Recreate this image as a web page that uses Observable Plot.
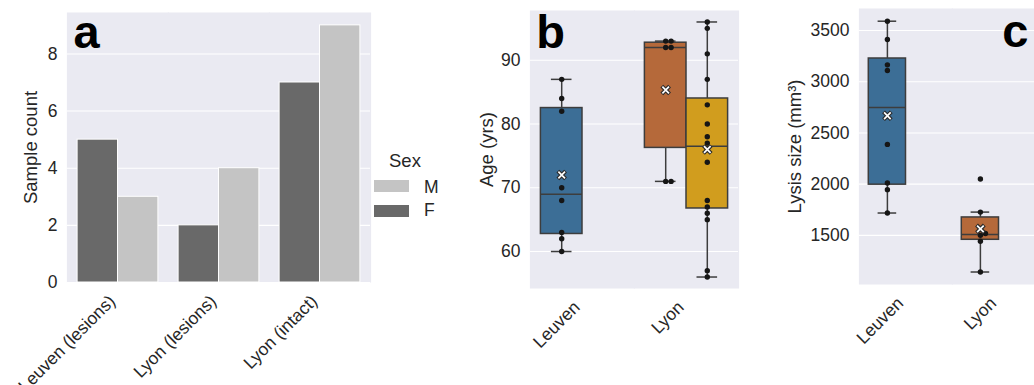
<!DOCTYPE html>
<html>
<head>
<meta charset="utf-8">
<script src="https://cdn.jsdelivr.net/npm/d3@7"></script>
<script src="https://cdn.jsdelivr.net/npm/@observablehq/plot@0.6"></script>
<style>
  html, body { margin: 0; padding: 0; background: #fff; overflow: hidden; }
  #root { position: relative; width: 1034px; height: 385px; overflow: hidden;
          font-family: "Liberation Sans", Arial, sans-serif; color: #262626; }
  .panel { position: absolute; top: 0; }
  .panel svg { overflow: visible; max-width: none !important; }
  #legend { position: absolute; left: 360px; top: 140px; }
</style>
</head>
<body>
<div id="root">
  <div class="panel" id="pa" style="left:0px; width:380px"></div>
  <div class="panel" id="pb" style="left:440px; width:310px"></div>
  <div class="panel" id="pc" style="left:760px; width:290px"></div>
  <svg id="legend" width="90" height="90"></svg>
</div>
<script>
// ---------------- data ----------------
const barCategories = ["Leuven (lesions)", "Lyon (lesions)", "Lyon (intact)"];
const sexLevels = ["F", "M"];
const countF = [5, 2, 7];
const countM = [3, 4, 9];
const legendOrder = ["M", "F"];
const countTicks = [0, 2, 4, 6, 8];

const sites = ["Leuven", "Lyon"];
const hues = ["lesions", "intact"];
const ageLeuvenLesions = [87, 84, 82, 70, 68, 63, 62, 60];
const ageLyonLesions = [93, 93, 92, 92, 71, 71];
const ageLyonIntact = [96, 95, 91, 87, 83, 80, 78, 77, 76, 74, 68, 67, 66, 65, 57, 56];
const ageTicks = [60, 70, 80, 90];

const lysisLeuvenLesions = [3591, 3412, 3165, 3110, 2388, 2011, 1946, 1718];
const lysisLyonLesions = [2050, 1727, 1518, 1500, 1442, 1142];
const lysisTicks = [1500, 2000, 2500, 3000, 3500];

// ---------------- styles ----------------
const H = 385;
const bg = "#EAEAF2";
const sexColors = ["#696969", "#C4C4C4"];
const groupKeys = ["Leuven lesions", "Lyon lesions", "Lyon intact"];
const boxColors = ["#3C6E96", "#B5693A", "#D19D1E"];
const boxStroke = "#3d3d3d";
const textColor = "#262626";
const font = "'Liberation Sans', Arial, sans-serif";
const baseStyle = {fontFamily: font, fontSize: "17.5px", color: textColor, background: "transparent", overflow: "visible", maxWidth: "none"};
const tickLabelStyle = {frameAnchor: "bottom", rotate: -45, textAnchor: "end", lineAnchor: "top", dx: -10.5, dy: 11, fontSize: 17.5, fill: textColor};

// ---------------- helpers ----------------
function boxStats(site, hue, values) {
  const v = values.slice().sort(d3.ascending);
  const q1 = d3.quantileSorted(v, 0.25), med = d3.quantileSorted(v, 0.5), q3 = d3.quantileSorted(v, 0.75);
  const iqr = q3 - q1;
  const lo = d3.min(v.filter(x => x >= q1 - 1.5 * iqr));
  const hi = d3.max(v.filter(x => x <= q3 + 1.5 * iqr));
  return {site, hue, key: site + " " + hue, q1, med, q3, lo, hi, mean: d3.mean(v)};
}

// beeswarm layout in pixel space (like seaborn's swarmplot)
function swarm(options, radius) {
  return Plot.initializer(options, function (data, facets, channels, scales) {
    const X = channels.x.value, Y = channels.y.value;
    const xs = scales.x, ys = scales.y;
    const n = X.length;
    const PX = new Float64Array(n), PY = new Float64Array(n), OFF = new Float64Array(n);
    for (let i = 0; i < n; i++) { PX[i] = xs(X[i]); PY[i] = ys(Y[i]); }
    const d = 2 * radius;
    const F = facets || [d3.range(n)];
    for (const I of F) {
      const groups = d3.group(Array.from(I), i => X[i]);
      for (const G of groups.values()) {
        const order = G.slice().sort((a, b) => PY[b] - PY[a]);
        const placed = [];
        for (const i of order) {
          const near = placed.filter(j => Math.abs(PY[j] - PY[i]) < d);
          const cands = [0];
          for (const j of near) {
            const dy = PY[j] - PY[i];
            const off = Math.sqrt(d * d - dy * dy);
            cands.push(OFF[j] + off, OFF[j] - off);
          }
          cands.sort((a, b) => Math.abs(a) - Math.abs(b));
          let best = 0;
          for (const c of cands) {
            if (near.every(j => (c - OFF[j]) ** 2 + (PY[j] - PY[i]) ** 2 >= d * d - 1e-6)) { best = c; break; }
          }
          OFF[i] = best;
          placed.push(i);
        }
      }
    }
    for (let i = 0; i < n; i++) PX[i] += OFF[i];
    return {data, facets, channels: {x: {value: PX}, y: {value: PY}}};
  });
}

// ---------------- panel a ----------------
const barData = barCategories.flatMap((c, i) => [
  {cat: c, sex: "F", n: countF[i]},
  {cat: c, sex: "M", n: countM[i]}
]);

const plotA = Plot.plot({
  width: 380, height: H,
  marginLeft: 66, marginRight: 10, marginTop: 12, marginBottom: 103,
  style: baseStyle,
  fx: {domain: barCategories, padding: 0, axis: null, label: null},
  x: {domain: sexLevels, paddingInner: 0, paddingOuter: 0.25, round: false, axis: null},
  y: {domain: [0, 9.45], ticks: countTicks, tickSize: 0, tickPadding: 10, label: null},
  color: {domain: sexLevels, range: sexColors},
  marks: [
    Plot.frame({fill: bg, stroke: "none", insetLeft: -0.6, insetRight: -0.6}),
    Plot.ruleY(countTicks, {stroke: "white", strokeWidth: 1.1}),
    Plot.barY(barData, {fx: "cat", x: "sex", y: "n", fill: "sex", stroke: "white", strokeWidth: 1}),
    Plot.text(barCategories, {fx: d => d, text: d => d, ...tickLabelStyle}),
    Plot.text([{cat: barCategories[0], t: "a"}], {fx: "cat", text: "t", frameAnchor: "top-left", textAnchor: "start", lineAnchor: "top", dx: 6, dy: 2.6, fontSize: 47, fontWeight: "bold", fill: "black"}),
    Plot.text([{cat: barCategories[0], t: "Sample count"}], {fx: "cat", text: "t", frameAnchor: "left", rotate: -90, textAnchor: "middle", lineAnchor: "middle", dx: -36.5, fontSize: 18.5, fill: textColor})
  ]
});
document.getElementById("pa").appendChild(plotA);

// ---------------- box panels ----------------
function boxPanel(cfg) {
  const stats = cfg.groups.map(g => boxStats(g.site, g.hue, g.values));
  const pts = cfg.groups.flatMap(g => g.values.map(v => ({site: g.site, hue: g.hue, v})));
  const st = {stroke: boxStroke, strokeWidth: 1.5};
  const pos = {fx: "site", x: "hue"};
  return Plot.plot({
    width: cfg.width, height: H,
    marginLeft: cfg.marginLeft, marginRight: cfg.marginRight, marginTop: cfg.marginTop, marginBottom: H - cfg.frameBottom,
    style: baseStyle,
    fx: {domain: sites, padding: 0, axis: null, label: null},
    x: {domain: hues, paddingInner: 0, paddingOuter: 0.25, round: false, axis: null},
    y: {domain: cfg.yDomain, ticks: cfg.ticks, tickFormat: "d", tickSize: 0, tickPadding: 10, label: null},
    color: {domain: groupKeys, range: boxColors},
    marks: [
      Plot.frame({fill: bg, stroke: "none", insetLeft: -0.6, insetRight: -0.6}),
      Plot.ruleY(cfg.ticks, {stroke: "white", strokeWidth: 1.1}),
      Plot.ruleX(stats, {...pos, y1: "lo", y2: "q1", ...st}),
      Plot.ruleX(stats, {...pos, y1: "q3", y2: "hi", ...st}),
      Plot.tickY(stats, {...pos, y: "lo", inset: cfg.capInset, ...st}),
      Plot.tickY(stats, {...pos, y: "hi", inset: cfg.capInset, ...st}),
      Plot.barY(stats, {...pos, y1: "q1", y2: "q3", fill: "key", ...st}),
      Plot.tickY(stats, {...pos, y: "med", ...st}),
      Plot.dot(pts, swarm({...pos, y: "v", r: 2.7, fill: "#161616", stroke: "none"}, 2.7)),
      Plot.dot(stats, {...pos, y: "mean", symbol: "times", r: 3.6, stroke: "#2a2a2a", strokeWidth: 4}),
      Plot.dot(stats, {...pos, y: "mean", symbol: "times", r: 3.1, stroke: "white", strokeWidth: 1.7}),
      Plot.text(sites, {fx: d => d, text: d => d, ...tickLabelStyle}),
      Plot.text([{site: cfg.letterSite, t: cfg.letter}], {fx: "site", text: "t", frameAnchor: cfg.letterAnchor, textAnchor: cfg.letterTextAnchor, lineAnchor: "top", dx: cfg.letterDx, dy: cfg.letterDy, fontSize: 47, fontWeight: "bold", fill: "black"}),
      Plot.text([{site: sites[0], t: cfg.label}], {fx: "site", text: "t", frameAnchor: "left", rotate: -90, textAnchor: "middle", lineAnchor: "middle", dx: cfg.labelDx, fontSize: 18.5, fill: textColor})
    ]
  });
}

const plotB = boxPanel({
  width: 310, marginLeft: 89, marginRight: 12, marginTop: 10, frameBottom: 288,
  yDomain: [54.2, 97.8], ticks: ageTicks, capInset: 10.5,
  groups: [
    {site: "Leuven", hue: "lesions", values: ageLeuvenLesions},
    {site: "Lyon", hue: "lesions", values: ageLyonLesions},
    {site: "Lyon", hue: "intact", values: ageLyonIntact}
  ],
  letter: "b", letterSite: "Leuven", letterAnchor: "top-left", letterTextAnchor: "start", letterDx: 5.7, letterDy: 4.6,
  label: "Age (yrs)", labelDx: -43
});
document.getElementById("pb").appendChild(plotB);

const plotC = boxPanel({
  width: 290, marginLeft: 99, marginRight: 5, marginTop: 8, frameBottom: 284,
  yDomain: [1020, 3715], ticks: lysisTicks, capInset: 9.3,
  groups: [
    {site: "Leuven", hue: "lesions", values: lysisLeuvenLesions},
    {site: "Lyon", hue: "lesions", values: lysisLyonLesions}
  ],
  letter: "c", letterSite: "Lyon", letterAnchor: "top-right", letterTextAnchor: "end", letterDx: -17, letterDy: 5.6,
  label: "Lysis size (mm³)", labelDx: -64.5
});
document.getElementById("pc").appendChild(plotC);

// ---------------- legend ----------------
(function () {
  const svg = d3.select("#legend").style("font-family", font);
  svg.append("text").attr("x", 29).attr("y", 26.5).attr("font-size", 18.5).attr("fill", textColor).text("Sex");
  const rows = [{y: 40, base: 53}, {y: 65, base: 76}];
  legendOrder.forEach((s, i) => {
    const color = sexColors[sexLevels.indexOf(s)];
    svg.append("rect").attr("x", 14).attr("y", rows[i].y).attr("width", 35).attr("height", 12).attr("fill", color);
    svg.append("text").attr("x", 64).attr("y", rows[i].base).attr("font-size", 17.5).attr("fill", textColor).text(s);
  });
})();
</script>
</body>
</html>
